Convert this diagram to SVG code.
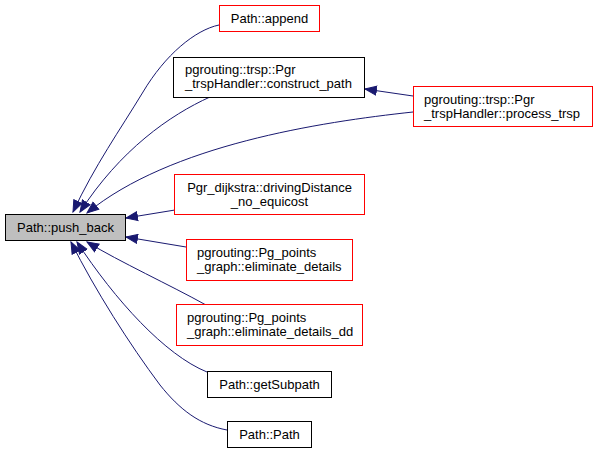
<svg xmlns="http://www.w3.org/2000/svg" width="597" height="453" viewBox="0 0 597 453">
<style>
.n rect{stroke-width:1}
.red{fill:#ffffff;stroke:#ff0000}
.blk{fill:#ffffff;stroke:#000000}
.cur{fill:#bfbfbf;stroke:#000000}
text{font-family:"Liberation Sans",Arial,Helvetica,sans-serif;font-size:13px;fill:#000000}
.c{text-anchor:middle}
.e path{fill:none;stroke:#191970;stroke-width:1;marker-end:url(#ah)}
</style>
<defs>
<marker id="ah" markerUnits="userSpaceOnUse" markerWidth="13" markerHeight="11" viewBox="0 -5.5 13 11" refX="12" refY="0" orient="auto">
<path d="M0.5,-4.5 L12,0 L0.5,4.5 z" fill="#191970" stroke="#191970" stroke-width="1"/>
</marker>
</defs>
<rect width="597" height="453" fill="#ffffff"/>
<g id="edges" class="e">
<path d="M219,25 C195,30 165,55 143,92 C120,130 95,165 73,212"/>
<path d="M210,97 C170,115 120,150 80,212"/>
<path d="M413,112 C320,122 170,145 87,213"/>
<path d="M413,96 L365,89"/>
<path d="M175,210 L126,218"/>
<path d="M186,247 L126,237"/>
<path d="M206,305 C170,285 120,262 87,242"/>
<path d="M207,372 C165,355 115,300 77,242"/>
<path d="M227,430 C200,425 180,410 160,385 C130,345 95,290 71,242"/>
</g>
<g id="push_back" class="n"><rect class="cur" x="5.5" y="214.5" width="120" height="26"/><text class="c" x="65.5" y="232">Path::push_back</text></g>
<g id="append" class="n"><rect class="red" x="219.5" y="5.5" width="100" height="26"/><text class="c" x="269.5" y="23">Path::append</text></g>
<g id="construct_path" class="n"><rect class="blk" x="173.5" y="57.5" width="191" height="40"/><text x="185" y="74">pgrouting::trsp::Pgr</text><text x="185" y="88">_trspHandler::construct_path</text></g>
<g id="process_trsp" class="n"><rect class="red" x="413.5" y="86.5" width="179" height="40"/><text x="424" y="104">pgrouting::trsp::Pgr</text><text x="424" y="118">_trspHandler::process_trsp</text></g>
<g id="dijkstra" class="n"><rect class="red" x="174.5" y="174.5" width="190" height="40"/><text class="c" x="269.5" y="192">Pgr_dijkstra::drivingDistance</text><text class="c" x="269.5" y="206">_no_equicost</text></g>
<g id="eliminate_details" class="n"><rect class="red" x="186.5" y="239.5" width="166" height="41"/><text x="197" y="257">pgrouting::Pg_points</text><text x="197" y="271">_graph::eliminate_details</text></g>
<g id="eliminate_details_dd" class="n"><rect class="red" x="176.5" y="304.5" width="186" height="41"/><text x="187" y="322">pgrouting::Pg_points</text><text x="187" y="336">_graph::eliminate_details_dd</text></g>
<g id="getSubpath" class="n"><rect class="blk" x="207.5" y="371.5" width="124" height="26"/><text class="c" x="269.5" y="389">Path::getSubpath</text></g>
<g id="path_ctor" class="n"><rect class="blk" x="227.5" y="421.5" width="84" height="26"/><text class="c" x="269.5" y="439">Path::Path</text></g>
</svg>
